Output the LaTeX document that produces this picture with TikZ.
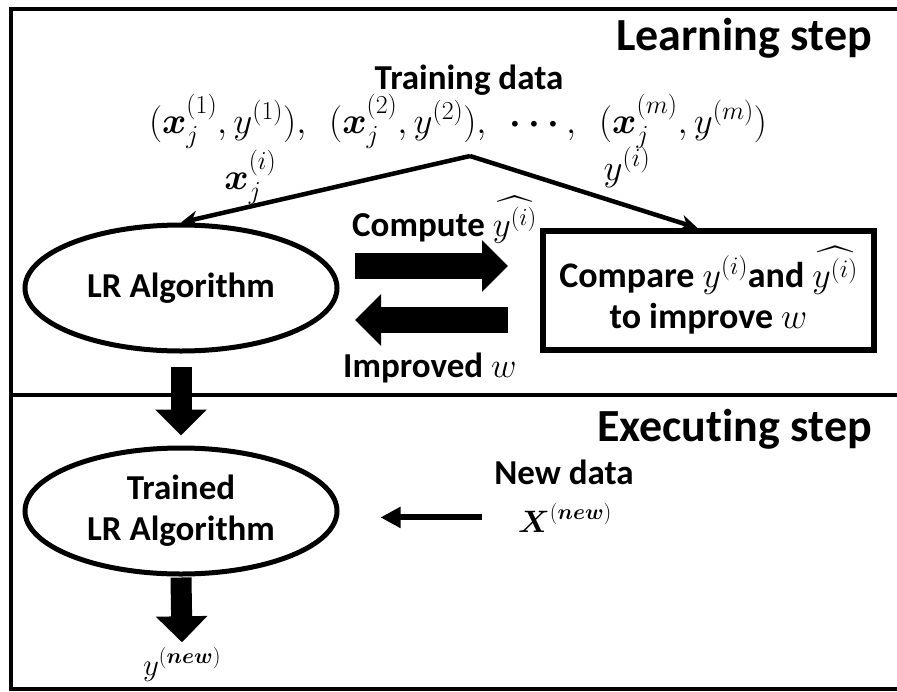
\RequirePackage{fix-cm}
\documentclass[tikz,border=0pt]{standalone}
\usepackage{amsmath}
\usepackage{amssymb}
\usepackage{fontspec}
\setmainfont{Carlito}[Ligatures=NoCommon]
\usetikzlibrary{positioning,shapes.geometric,arrows.meta,calc}

\begin{document}
\begin{tikzpicture}[
    x=1pt, y=-1pt,
    frame/.style={line width=4.5pt},
    algo/.style={ellipse, draw, line width=5pt, minimum width=312pt, minimum height=126pt, align=center, font=\fontsize{35}{41}\selectfont\bfseries},
    box/.style={draw, line width=6pt, minimum width=331pt, minimum height=119pt, align=center, font=\fontsize{36}{41}\selectfont\bfseries},
    title/.style={inner sep=0pt, font=\fontsize{46}{50}\selectfont\bfseries},
    lbl/.style={inner sep=0pt, font=\fontsize{35}{40}\selectfont\bfseries},
    mathlbl/.style={inner sep=0pt, font=\fontsize{37}{42}\selectfont},
    newlbl/.style={inner sep=0pt, font=\fontsize{31}{36}\selectfont},
    arrow/.style={line width=4.5pt, -{Stealth[length=17pt,width=16pt]}},
    bigarrow/.style={line width=26pt, -{Triangle[length=26pt,width=50pt]}},
    newarrow/.style={line width=6pt, -{Triangle[length=20pt,width=20pt]}}
  ]
  \useasboundingbox (0,0) rectangle (897,691);
  % frame and divider
  \draw[frame] (900,9) -- (11,9) -- (11,689) -- (900,689);
  \draw[frame] (11,395) -- (900,395);

  % learning step
  \node[title, anchor=base east] (learn) at (872,50) {Learning step};
  \node[lbl, anchor=base] (train) at (469,89) {Training data};
  \node[mathlbl, anchor=base] (tuples) at (458,133) {$(\boldsymbol{x}_j^{(1)},y^{(1)}),\ \ (\boldsymbol{x}_j^{(2)},y^{(2)}),\ \ \boldsymbol{\cdots},\ \ (\boldsymbol{x}_j^{(m)},y^{(m)})$};
  \coordinate (split) at (470,156);
  \node[algo] (lr) at (181,288) {LR Algorithm};
  \node[box] (cmp) at (708.5,290.5) {Compare $y^{(i)}$and $\widehat{y^{(i)}}$\\to improve $w$};
  \draw[arrow] (split) -- node[mathlbl, pos=0.76, above=0pt] {$\boldsymbol{x}_j^{(i)}$} (lr.north);
  \draw[arrow] (split) -- node[mathlbl, pos=0.69, above=16pt] {$y^{(i)}$} ([xshift=-11pt]cmp.north);

  % loop between algorithm and comparison
  \coordinate (fwdA) at (355,266);
  \coordinate (fwdB) at (508,266);
  \coordinate (bwdA) at (508,320);
  \coordinate (bwdB) at (355,320);
  \draw[bigarrow] (fwdA) -- (fwdB);
  \draw[bigarrow] (bwdA) -- (bwdB);
  \node[lbl, anchor=base west] (compute) at (352,236) {Compute $\widehat{y^{(i)}}$};
  \node[lbl, anchor=base west] (improved) at (343,377) {Improved $w$};

  % executing step
  \node[title, anchor=base east] (exec) at (872,441) {Executing step};
  \node[algo] (trained) at (181,511) {Trained\\LR Algorithm};
  \node[lbl, anchor=base] (newdata) at (564,484) {New data};
  \node[newlbl, anchor=base] (xnew) at (565,532) {$\boldsymbol{X}^{(\boldsymbol{new})}$};
  \node[newlbl, anchor=base] (ynew) at (182,675) {$y^{(\boldsymbol{new})}$};
  \draw[bigarrow, line width=21pt] ([yshift=-13pt]lr.south) -- ([yshift=10pt]trained.north);
  \draw[bigarrow, line width=21pt] ([yshift=-1pt]trained.south) -- ([yshift=5pt]ynew.north);
  \draw[newarrow] ($(trained.east |- xnew.west)+(142,0)$) -- ($(trained.east |- xnew.west)+(41,0)$);
\end{tikzpicture}
\end{document}
